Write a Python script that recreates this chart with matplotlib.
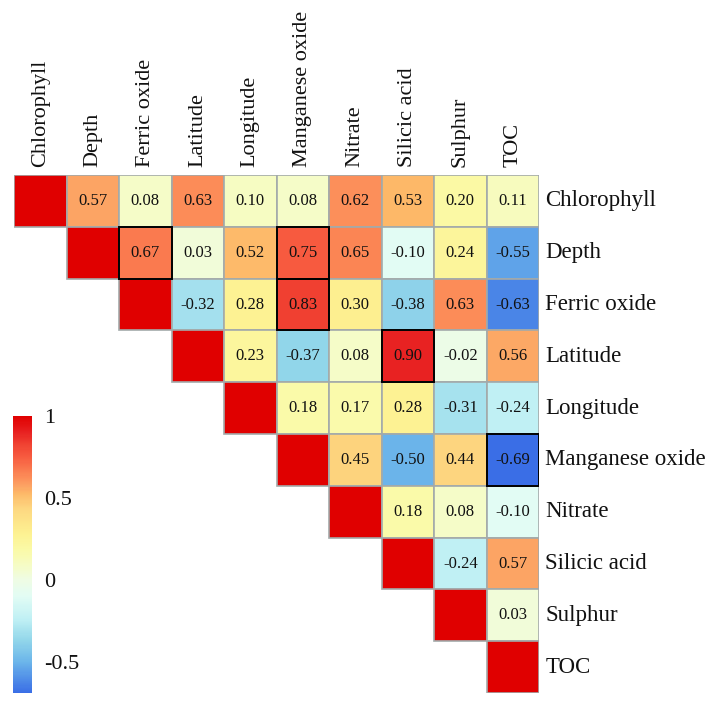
import matplotlib.pyplot as plt
import numpy as np
from matplotlib.colors import LinearSegmentedColormap, Normalize
from matplotlib.patches import Rectangle
import matplotlib.colorbar as mcolorbar

# --- Data ---
variables = ["Chlorophyll", "Depth", "Ferric oxide", "Latitude", "Longitude",
             "Manganese oxide", "Nitrate", "Silicic acid", "Sulphur", "TOC"]

# upper triangle, each row starts at the diagonal
upper_rows = [
    [1, 0.57, 0.08, 0.63, 0.10, 0.08, 0.62, 0.53, 0.20, 0.11],
    [1, 0.67, 0.03, 0.52, 0.75, 0.65, -0.10, 0.24, -0.55],
    [1, -0.32, 0.28, 0.83, 0.30, -0.38, 0.63, -0.63],
    [1, 0.23, -0.37, 0.08, 0.90, -0.02, 0.56],
    [1, 0.18, 0.17, 0.28, -0.31, -0.24],
    [1, 0.45, -0.50, 0.44, -0.69],
    [1, 0.18, 0.08, -0.10],
    [1, -0.24, 0.57],
    [1, 0.03],
    [1],
]

# cells outlined in black (row, col)
highlighted = [(1, 2), (1, 5), (2, 5), (3, 7), (5, 9)]

n = len(variables)
corr = np.full((n, n), np.nan)
for i, row in enumerate(upper_rows):
    corr[i, i:] = row

# --- Colours ---
vmin, vmax = -0.69, 1.0
stops = [
    (-0.69, "#3a6ee6"), (-0.50, "#6cb6ea"), (-0.37, "#92d6ea"),
    (-0.24, "#c0f0f4"), (-0.10, "#e2fcf4"), (0.00, "#effce4"),
    (0.08, "#f5fcc8"), (0.18, "#fafaa8"), (0.28, "#fdf292"),
    (0.44, "#fdd680"), (0.53, "#fdb868"), (0.57, "#fca464"),
    (0.63, "#fc8c58"), (0.67, "#fa7c50"), (0.75, "#f75c40"),
    (0.83, "#f04232"), (0.90, "#e82222"), (1.00, "#e00000"),
]
cmap = LinearSegmentedColormap.from_list(
    "corr", [((v - vmin) / (vmax - vmin), c) for v, c in stops])
norm = Normalize(vmin=vmin, vmax=vmax)

plt.rcParams["font.family"] = ["Liberation Serif", "DejaVu Serif"]

# --- Plot ---
W, H = 711, 708
fig = plt.figure(figsize=(W / 100, H / 100), dpi=100)

# colorbar first, heatmap axes is transparent on top of it
cax = fig.add_axes([13 / W, (H - 693) / H, 19 / W, 277 / H])
cb = mcolorbar.ColorbarBase(cax, cmap=cmap, norm=norm, orientation="vertical")
cb.outline.set_visible(False)
cb.set_ticks([-0.5, 0, 0.5, 1])
cb.set_ticklabels(["-0.5", "0", "0.5", "1"])
cax.tick_params(length=0, labelsize=16, pad=9, colors="#111111")

ax = fig.add_axes([14 / W, (H - 693) / H, 525 / W, 518 / H])
ax.patch.set_visible(False)
ax.set_xlim(0, n)
ax.set_ylim(n, 0)
ax.set_axis_off()

for i in range(n):
    for j in range(i, n):
        ax.add_patch(Rectangle((j, i), 1, 1, facecolor=cmap(norm(corr[i, j])),
                               edgecolor="#a3aaaa", linewidth=1.2))

for (i, j) in highlighted:
    ax.add_patch(Rectangle((j, i), 1, 1, fill=False, edgecolor="black",
                           linewidth=1.4, zorder=3))

for i in range(n):
    for j in range(i + 1, n):
        ax.text(j + 0.5, i + 0.5, f"{corr[i, j]:.2f}", ha="center", va="center",
                fontsize=12, color="#111111")

for k, name in enumerate(variables):
    ax.text(k + 0.5, -0.15, name, rotation=90, ha="center", va="bottom",
            fontsize=16, color="#111111")
    ax.text(n + 0.12, k + 0.5, name, ha="left", va="center",
            fontsize=16.5, color="#111111", clip_on=False)

fig.savefig("out.png", dpi=100)
